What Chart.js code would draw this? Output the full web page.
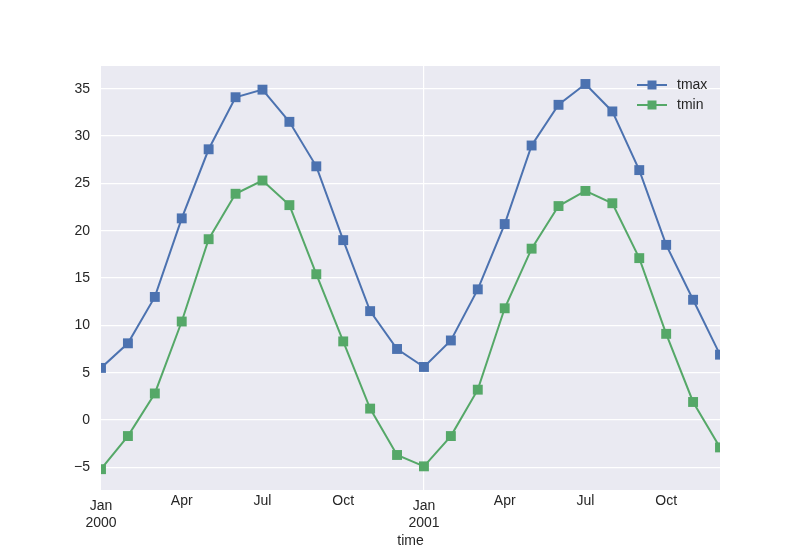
<!DOCTYPE html>
<html>
<head>
<meta charset="utf-8">
<script src="https://cdn.jsdelivr.net/npm/chart.js@4/dist/chart.umd.min.js"></script>
<style>
  html, body { margin: 0; padding: 0; background: #fff; }
  #wrap { width: 800px; height: 550px; }
</style>
</head>
<body>
<div id="wrap"><canvas id="tempChart"></canvas></div>
<script>
// Monthly data, Jan 2000 .. Dec 2001
const months = ['2000-01', '2000-02', '2000-03', '2000-04', '2000-05', '2000-06',
                '2000-07', '2000-08', '2000-09', '2000-10', '2000-11', '2000-12',
                '2001-01', '2001-02', '2001-03', '2001-04', '2001-05', '2001-06',
                '2001-07', '2001-08', '2001-09', '2001-10', '2001-11', '2001-12'];
const tmax = [5.5, 8.1, 13.0, 21.3, 28.6, 34.1, 34.9, 31.5, 26.8, 19.0, 11.5, 7.5,
              5.6, 8.4, 13.8, 20.7, 29.0, 33.3, 35.5, 32.6, 26.4, 18.5, 12.7, 6.9];
const tmin = [-5.2, -1.7, 2.8, 10.4, 19.1, 23.9, 25.3, 22.7, 15.4, 8.3, 1.2, -3.7,
              -4.9, -1.7, 3.2, 11.8, 18.1, 22.6, 24.2, 22.9, 17.1, 9.1, 1.9, -2.9];
const yTicks = [-5, 0, 5, 10, 15, 20, 25, 30, 35];
const monthNames = ['Jan', 'Feb', 'Mar', 'Apr', 'May', 'Jun',
                    'Jul', 'Aug', 'Sep', 'Oct', 'Nov', 'Dec'];

const BLUE = '#4C72B0';
const GREEN = '#55A868';
const TEXT = '#262626';
const FONT = "'Liberation Sans', Arial, sans-serif";
const Y_MIN = -7.4;
const Y_MAX = 37.4;

// grey background behind the plot area
const plotBackground = {
    id: 'plotBackground',
    beforeDraw(chart) {
        const { ctx, chartArea: a } = chart;
        ctx.save();
        ctx.fillStyle = '#EAEAF2';
        ctx.fillRect(a.left, a.top, a.right - a.left, a.bottom - a.top);
        ctx.restore();
    }
};

// matplotlib-like legend in the upper right corner of the plot
const cornerLegend = {
    id: 'cornerLegend',
    afterDraw(chart) {
        const { ctx, chartArea: a } = chart;
        ctx.save();
        chart.data.datasets.forEach((ds, i) => {
            const y = a.top + 19 + i * 20;
            const x0 = a.right - 83;
            ctx.strokeStyle = ds.borderColor;
            ctx.lineWidth = 2;
            ctx.beginPath();
            ctx.moveTo(x0, y);
            ctx.lineTo(x0 + 30, y);
            ctx.stroke();
            ctx.fillStyle = ds.borderColor;
            ctx.fillRect(x0 + 10.5, y - 4.5, 9, 9);
            ctx.fillStyle = TEXT;
            ctx.font = '14px ' + FONT;
            ctx.textBaseline = 'middle';
            ctx.fillText(ds.label, x0 + 40, y);
        });
        ctx.restore();
    }
};

// month name / year label for tick i
function monthLabel(i) {
    const [yr, mo] = months[i].split('-');
    const name = monthNames[Number(mo) - 1];
    return name === 'Jan' ? [name, yr] : name;
}

const ctx = document.getElementById('tempChart').getContext('2d');
const tempChart = new Chart(ctx, {
    type: 'line',
    data: {
        labels: months,
        datasets: [{
            label: 'tmax',
            data: tmax,
            borderColor: BLUE,
            backgroundColor: BLUE,
            borderWidth: 2,
            pointStyle: 'rect',
            pointRadius: 7,
            pointBorderWidth: 0,
            tension: 0,
            clip: 0
        }, {
            label: 'tmin',
            data: tmin,
            borderColor: GREEN,
            backgroundColor: GREEN,
            borderWidth: 2,
            pointStyle: 'rect',
            pointRadius: 7,
            pointBorderWidth: 0,
            tension: 0,
            clip: 0
        }]
    },
    options: {
        responsive: true,
        maintainAspectRatio: false,
        animation: false,
        layout: { padding: { left: 0, right: 80, top: 66, bottom: 0 } },
        plugins: {
            legend: { display: false },
            tooltip: { enabled: false }
        },
        scales: {
            // major ticks: January with year
            x: {
                type: 'category',
                position: 'bottom',
                offset: false,
                border: { display: false },
                grid: {
                    color: c => (c.index === 12 ? '#FFFFFF' : 'rgba(0,0,0,0)'),
                    lineWidth: 1.2,
                    drawTicks: false
                },
                ticks: {
                    autoSkip: false,
                    maxRotation: 0,
                    padding: 8,
                    color: TEXT,
                    font: { family: FONT, size: 14 },
                    callback: (v, i) => (i % 12 === 0 ? monthLabel(i) : '')
                },
                title: {
                    display: true,
                    text: 'time',
                    color: TEXT,
                    font: { family: FONT, size: 14 },
                    padding: { top: 0, bottom: 0 }
                },
                afterFit: s => { s.height = 60; }
            },
            // minor ticks: quarter months (Apr, Jul, Oct), pinned to the bottom edge
            xMinor: {
                type: 'category',
                position: { y: Y_MIN },
                offset: false,
                border: { display: false },
                grid: { display: false },
                ticks: {
                    autoSkip: false,
                    maxRotation: 0,
                    padding: -5,
                    color: TEXT,
                    font: { family: FONT, size: 14 },
                    callback: (v, i) => (i % 3 === 0 && i % 12 !== 0 ? monthLabel(i) : '')
                }
            },
            y: {
                min: Y_MIN,
                max: Y_MAX,
                border: { display: false },
                grid: { color: '#FFFFFF', lineWidth: 1.2, drawTicks: false },
                afterBuildTicks: s => { s.ticks = yTicks.map(v => ({ value: v })); },
                ticks: {
                    padding: 11,
                    color: TEXT,
                    font: { family: FONT, size: 14 },
                    callback: v => String(v).replace('-', '\u2212')
                },
                afterFit: s => { s.width = 101; }
            }
        }
    },
    plugins: [plotBackground, cornerLegend]
});
</script>
</body>
</html>
